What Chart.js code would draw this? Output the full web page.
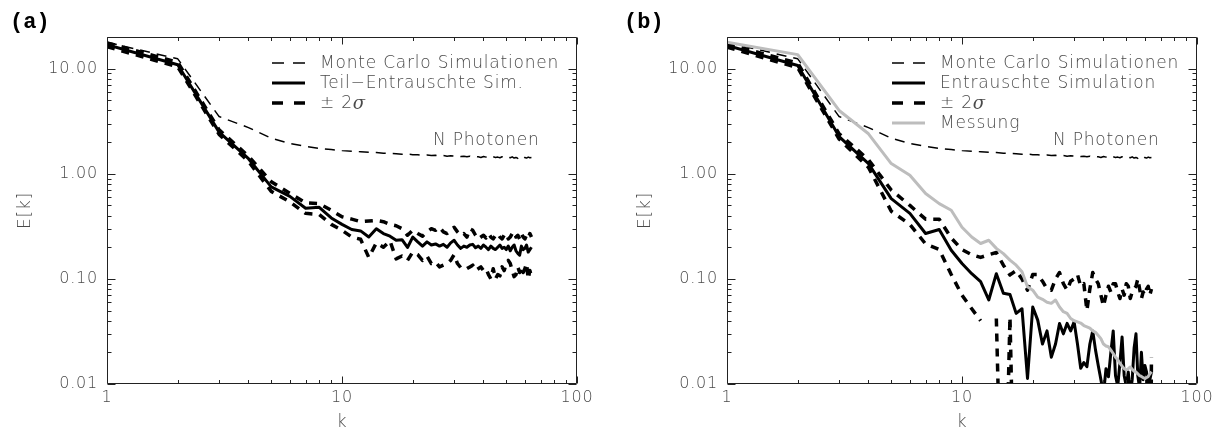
<!DOCTYPE html>
<html>
<head>
<meta charset="utf-8">
<script src="https://cdn.jsdelivr.net/npm/chart.js@4.4.1/dist/chart.umd.min.js"></script>
<style>
    html, body { margin: 0; padding: 0; background: #fff; }
    #wrap { position: relative; width: 1223px; height: 436px; overflow: hidden; }
    #chartA { position: absolute; left: 0; top: 0; }
    #chartB { position: absolute; left: 620px; top: 0; }
</style>
</head>
<body>
<div id="wrap">
    <canvas id="chartA" width="620" height="436"></canvas>
    <canvas id="chartB" width="603" height="436"></canvas>
</div>
<script>
// k = 1 .. 64
const kValues = [
    1, 2, 3, 4, 5, 6, 7, 8, 9, 10,
    11, 12, 13, 14, 15, 16, 17, 18, 19, 20,
    21, 22, 23, 24, 25, 26, 27, 28, 29, 30,
    31, 32, 33, 34, 35, 36, 37, 38, 39, 40,
    41, 42, 43, 44, 45, 46, 47, 48, 49, 50,
    51, 52, 53, 54, 55, 56, 57, 58, 59, 60,
    61, 62, 63, 64
];

// Monte Carlo Simulationen (N Photonen), same in both panels
const monteCarlo = [
    17.8, 12.4, 3.5, 2.75, 2.18, 1.94, 1.82, 1.74, 1.70, 1.66,
    1.64, 1.62, 1.60, 1.59, 1.57, 1.56, 1.55, 1.53, 1.54, 1.52,
    1.52, 1.50, 1.51, 1.49, 1.50, 1.48, 1.49, 1.47, 1.48, 1.47,
    1.48, 1.46, 1.47, 1.45, 1.47, 1.44, 1.46, 1.45, 1.43, 1.46,
    1.44, 1.45, 1.42, 1.45, 1.43, 1.44, 1.42, 1.45, 1.41, 1.44,
    1.43, 1.42, 1.45, 1.41, 1.43, 1.40, 1.44, 1.42, 1.39, 1.43,
    1.41, 1.44, 1.42, 1.43
];

// (a) Teil-Entrauschte Sim. with +/- 2 sigma
const aSim = [
    16.9, 10.9, 2.49, 1.39, 0.75, 0.61, 0.47, 0.48, 0.38, 0.33,
    0.295, 0.286, 0.25, 0.30, 0.27, 0.255, 0.233, 0.236, 0.199, 0.25,
    0.225, 0.205, 0.225, 0.21, 0.215, 0.205, 0.213, 0.20, 0.22, 0.233,
    0.21, 0.195, 0.205, 0.20, 0.21, 0.213, 0.198, 0.205, 0.195, 0.21,
    0.20, 0.19, 0.205, 0.195, 0.19, 0.20, 0.21, 0.195, 0.20, 0.19,
    0.205, 0.185, 0.20, 0.21, 0.185, 0.175, 0.168, 0.205, 0.19, 0.195,
    0.21, 0.18, 0.19, 0.20
];
const aHigh = [
    17.6, 11.5, 2.62, 1.47, 0.84, 0.65, 0.53, 0.52, 0.45, 0.39,
    0.37, 0.35, 0.355, 0.36, 0.35, 0.33, 0.32, 0.30, 0.26, 0.29,
    0.27, 0.255, 0.28, 0.30, 0.29, 0.31, 0.28, 0.27, 0.29, 0.31,
    0.28, 0.26, 0.27, 0.25, 0.30, 0.29, 0.26, 0.24, 0.25, 0.26,
    0.245, 0.27, 0.25, 0.24, 0.26, 0.27, 0.25, 0.24, 0.26, 0.27,
    0.24, 0.25, 0.27, 0.28, 0.25, 0.26, 0.24, 0.27, 0.25, 0.24,
    0.26, 0.245, 0.27, 0.25
];
const aLow = [
    16.2, 10.4, 2.37, 1.31, 0.68, 0.54, 0.42, 0.41, 0.33, 0.29,
    0.25, 0.238, 0.16, 0.22, 0.20, 0.23, 0.155, 0.165, 0.15, 0.18,
    0.17, 0.15, 0.165, 0.14, 0.145, 0.13, 0.135, 0.14, 0.15, 0.17,
    0.14, 0.128, 0.13, 0.125, 0.13, 0.135, 0.12, 0.125, 0.13, 0.12,
    0.125, 0.11, 0.10, 0.125, 0.10, 0.11, 0.107, 0.13, 0.12, 0.14,
    0.15, 0.14, 0.12, 0.105, 0.11, 0.13, 0.115, 0.13, 0.115, 0.125,
    0.14, 0.10, 0.12, 0.105
];

// (b) Entrauschte Simulation, +/- 2 sigma and Messung
const bSim = [
    16.6, 10.7, 2.26, 1.25, 0.58, 0.42, 0.27, 0.295, 0.187, 0.14,
    0.112, 0.094, 0.063, 0.112, 0.073, 0.071, 0.047, 0.052, 0.0113, 0.054,
    0.0405, 0.024, 0.032, 0.018, 0.024, 0.0377, 0.030, 0.0377, 0.032, 0.039,
    0.024, 0.0141, 0.016, 0.0146, 0.024, 0.032, 0.021, 0.015, 0.011, 0.008,
    0.014, 0.0117, 0.02, 0.032, 0.012, 0.0095, 0.016, 0.028, 0.012, 0.0095,
    0.013, 0.008, 0.011, 0.022, 0.030, 0.012, 0.009, 0.02, 0.011, 0.015,
    0.013, 0.008, 0.011, 0.013
];
const bHigh = [
    17.2, 11.3, 2.40, 1.36, 0.70, 0.50, 0.37, 0.37, 0.245, 0.19,
    0.17, 0.16, 0.17, 0.178, 0.135, 0.109, 0.12, 0.10, 0.078, 0.11,
    0.11, 0.095, 0.08, 0.078, 0.10, 0.115, 0.09, 0.078, 0.095, 0.10,
    0.11, 0.085, 0.09, 0.05, 0.08, 0.115, 0.10, 0.09, 0.07, 0.055,
    0.07, 0.085, 0.075, 0.09, 0.09, 0.075, 0.065, 0.08, 0.07, 0.09,
    0.085, 0.065, 0.075, 0.08, 0.085, 0.10, 0.08, 0.065, 0.075, 0.07,
    0.08, 0.085, 0.07, 0.08
];
// 0.0001 stands for values that fall below the plotted range (negative lower bound)
const bLow = [
    16.0, 10.2, 2.14, 1.15, 0.44, 0.33, 0.215, 0.19, 0.11, 0.07,
    0.052, 0.040, null, 0.042, 0.0001, 0.043, 0.0001, 0.0001, 0.0001, 0.0001,
    0.0001, 0.0001, 0.0001, 0.0001, 0.0001, 0.0001, 0.0001, 0.0001, 0.0001, 0.0001,
    0.0001, 0.0001, 0.0001, 0.0001, 0.0001, 0.0001, 0.0001, 0.0001, 0.0001, 0.0001,
    0.0001, 0.0001, 0.0001, 0.0001, 0.0001, 0.0001, 0.0001, 0.0001, 0.0001, 0.0001,
    0.0001, 0.0001, 0.0001, 0.0001, 0.0001, 0.0001, 0.0001, 0.0001, 0.0001, 0.0001,
    0.0001, 0.0001, 0.0001, 0.018
];
const bMeas = [
    17.8, 13.6, 4.0, 2.4, 1.25, 0.97, 0.65, 0.52, 0.45, 0.31,
    0.25, 0.217, 0.233, 0.195, 0.174, 0.151, 0.135, 0.117, 0.084, 0.078,
    0.067, 0.064, 0.060, 0.0585, 0.063, 0.054, 0.0487, 0.047, 0.042, 0.040,
    0.039, 0.038, 0.036, 0.035, 0.034, 0.032, 0.031, 0.029, 0.027, 0.024,
    0.023, 0.0226, 0.021, 0.0195, 0.018, 0.017, 0.0157, 0.0148, 0.014, 0.0136,
    0.014, 0.0145, 0.0138, 0.0132, 0.013, 0.0125, 0.012, 0.0118, 0.0115, 0.0113,
    0.0115, 0.0118, 0.0125, 0.0131
];

const TXT = '#4a4a4a';
const SANS = '"DejaVu Sans", "Liberation Sans", sans-serif';
const THIN = '200';

const pts = ys => kValues.map((x, i) => ({ x, y: ys[i] }));

function logSteps(scale) {
    const out = [];
    const e0 = Math.floor(Math.log10(scale.min) + 1e-9);
    const e1 = Math.ceil(Math.log10(scale.max) - 1e-9);
    for (let e = e0; e <= e1; e++) {
        for (let m = 1; m < 10; m++) {
            const v = m * Math.pow(10, e);
            if (v >= scale.min * 0.999 && v <= scale.max * 1.001) out.push({ v, major: m === 1 });
        }
    }
    return out;
}

function decadeLabel(v, digits) {
    const e = Math.log10(v);
    if (Math.abs(e - Math.round(e)) > 1e-6) return '';
    return digits ? v.toFixed(digits) : String(Math.round(v));
}

// Frame with inward ticks on all sides, panel letter, in-plot legend and label
const axisFrame = {
    id: 'axisFrame',
    beforeDraw(chart) {
        chart.ctx.letterSpacing = '0.8px';
    },
    afterDraw(chart, args, opts) {
        const { ctx, chartArea: a } = chart;
        const xs = chart.scales.x, ys = chart.scales.y;
        const L = Math.round(a.left) + 0.5, R = Math.round(a.right) - 0.5;
        const T = Math.round(a.top) + 0.5, B = Math.round(a.bottom) - 0.5;

        ctx.save();
        ctx.setLineDash([]);
        ctx.strokeStyle = '#222';
        ctx.lineWidth = 1;
        ctx.beginPath();
        ctx.rect(L, T, R - L, B - T);
        logSteps(xs).forEach(t => {
            const p = Math.round(xs.getPixelForValue(t.v)) + 0.5;
            const len = t.major ? 7 : 3.5;
            ctx.moveTo(p, B); ctx.lineTo(p, B - len);
            ctx.moveTo(p, T); ctx.lineTo(p, T + len);
        });
        logSteps(ys).forEach(t => {
            const p = Math.round(ys.getPixelForValue(t.v)) + 0.5;
            const len = t.major ? 8 : 4;
            ctx.moveTo(L, p); ctx.lineTo(L + len, p);
            ctx.moveTo(R, p); ctx.lineTo(R - len, p);
        });
        ctx.stroke();

        // panel letter
        ctx.letterSpacing = '0px';
        ctx.fillStyle = '#000';
        ctx.font = 'bold 22px "Liberation Mono", "DejaVu Sans Mono", monospace';
        ctx.textAlign = 'left';
        ctx.textBaseline = 'middle';
        ctx.fillText(opts.letter, opts.letterX, 22);

        // N Photonen
        ctx.letterSpacing = '0.8px';
        ctx.fillStyle = TXT;
        ctx.font = THIN + ' 17px ' + SANS;
        ctx.fillText('N Photonen', a.left + 326, 141);

        // legend
        opts.legend.forEach((item, i) => {
            const ds = chart.data.datasets[item.ds];
            const y = 63 + i * 20;
            const x0 = a.left + 165;
            ctx.beginPath();
            ctx.setLineDash(item.dash || []);
            ctx.lineWidth = ds.borderWidth;
            ctx.strokeStyle = ds.borderColor;
            ctx.moveTo(x0, y);
            ctx.lineTo(x0 + 33, y);
            ctx.stroke();
            ctx.setLineDash([]);

            const tx = a.left + 213;
            ctx.fillStyle = TXT;
            ctx.font = THIN + ' 17px ' + SANS;
            const label = ds.label;
            if (label.endsWith('σ')) {
                const head = label.slice(0, -1);
                ctx.fillText(head, tx, y + 1);
                const w = ctx.measureText(head).width;
                ctx.font = 'italic 18px "DejaVu Serif", serif';
                ctx.fillText('σ', tx + w, y + 1);
            } else {
                ctx.fillText(label, tx, y + 1);
            }
        });
        ctx.restore();
    }
};

function lineSet(label, data, style) {
    return Object.assign({
        label,
        data: pts(data),
        borderColor: '#000',
        backgroundColor: '#000',
        borderWidth: 3,
        borderDash: [],
        borderJoinStyle: 'round',
        pointRadius: 0,
        tension: 0,
        fill: false,
        clip: 0
    }, style);
}

const thinDash = { borderWidth: 1.5, borderDash: [10, 7] };
const thickDash = { borderWidth: 3.5, borderDash: [8, 7] };

function makeOptions(padRight, letter, letterX, legend) {
    return {
        responsive: false,
        animation: false,
        events: [],
        layout: { padding: { top: 37, right: padRight, left: 0, bottom: 0 } },
        plugins: {
            legend: { display: false },
            tooltip: { enabled: false },
            axisFrame: { letter, letterX, legend }
        },
        scales: {
            x: {
                type: 'logarithmic',
                min: 1,
                max: 100,
                grid: { display: false, drawTicks: false },
                border: { display: false },
                ticks: {
                    autoSkip: false,
                    maxRotation: 0,
                    padding: 4,
                    color: TXT,
                    font: { family: SANS, size: 16, weight: THIN },
                    callback: v => decadeLabel(v, 0)
                },
                title: {
                    display: true,
                    text: 'k',
                    color: TXT,
                    font: { family: SANS, size: 17, weight: THIN },
                    padding: { top: 0, bottom: 3 }
                },
                afterFit(scale) { scale.height = 52; }
            },
            y: {
                type: 'logarithmic',
                min: 0.01,
                max: 20,
                grid: { display: false, drawTicks: false },
                border: { display: false },
                ticks: {
                    autoSkip: false,
                    padding: 9,
                    color: TXT,
                    font: { family: SANS, size: 16, weight: THIN },
                    callback: v => decadeLabel(v, 2)
                },
                title: {
                    display: true,
                    text: 'E[k]',
                    color: TXT,
                    font: { family: SANS, size: 17, weight: THIN },
                    padding: { top: 15, bottom: 0 }
                },
                afterFit(scale) { scale.width = 107; }
            }
        }
    };
}

new Chart(document.getElementById('chartA'), {
    type: 'line',
    data: {
        datasets: [
            lineSet('Monte Carlo Simulationen', monteCarlo, thinDash),
            lineSet('Teil−Entrauschte Sim.', aSim, {}),
            lineSet('± 2σ', aHigh, thickDash),
            lineSet('', aLow, thickDash)
        ]
    },
    options: makeOptions(43, '(a)', 10, [
        { ds: 0, dash: [12, 9] },
        { ds: 1 },
        { ds: 2, dash: [11, 11] }
    ]),
    plugins: [axisFrame]
});

new Chart(document.getElementById('chartB'), {
    type: 'line',
    data: {
        datasets: [
            lineSet('Messung', bMeas, { borderColor: '#bdbdbd', borderWidth: 3 }),
            lineSet('Monte Carlo Simulationen', monteCarlo, thinDash),
            lineSet('Entrauschte Simulation', bSim, {}),
            lineSet('± 2σ', bHigh, thickDash),
            lineSet('', bLow, thickDash)
        ]
    },
    options: makeOptions(26, '(b)', 4, [
        { ds: 1, dash: [12, 9] },
        { ds: 2 },
        { ds: 3, dash: [11, 11] },
        { ds: 0 }
    ]),
    plugins: [axisFrame]
});
</script>
</body>
</html>
